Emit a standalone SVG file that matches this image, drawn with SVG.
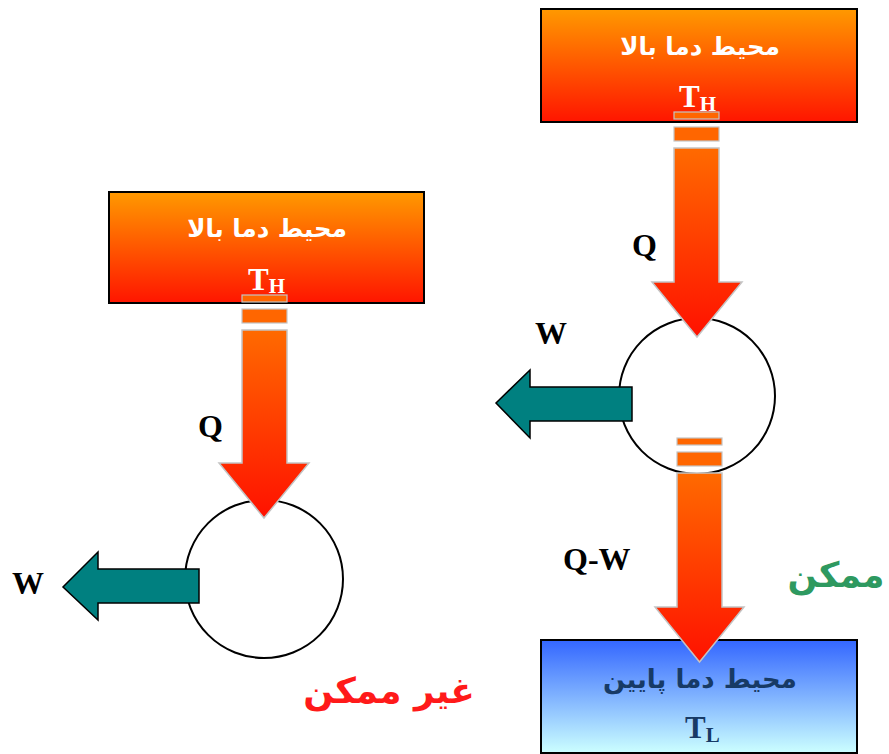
<svg xmlns="http://www.w3.org/2000/svg" width="889" height="754" viewBox="0 0 889 754">
<defs>
<linearGradient id="hot" x1="0" y1="0" x2="0" y2="1"><stop offset="0" stop-color="#ff9900"/><stop offset="1" stop-color="#ff1500"/></linearGradient>
<linearGradient id="cold" x1="0" y1="0" x2="0" y2="1"><stop offset="0" stop-color="#3366ff"/><stop offset="1" stop-color="#ccffff"/></linearGradient>
<linearGradient id="flow" x1="0" y1="0" x2="0" y2="1"><stop offset="0" stop-color="#ff6a00"/><stop offset="1" stop-color="#ff1100"/></linearGradient>
<style>
.box{stroke:#000;stroke-width:2}
.ring{fill:#fff;stroke:#000;stroke-width:2}
.flow{fill:url(#flow);stroke:#c4c4c4;stroke-width:1.5}
.stripe{fill:#ff6600;stroke:#c4c4c4;stroke-width:1.2}
.work{fill:#008080;stroke:#000;stroke-width:1.5}
.fa{font-family:"DejaVu Sans",sans-serif;font-weight:bold;text-anchor:middle}
.lat{font-family:"Liberation Serif","Times New Roman",serif;font-weight:bold}
</style>
</defs>
<rect width="889" height="754" fill="#fff"/>

<g id="hot-right">
<rect class="box" x="541" y="9" width="316" height="113" fill="url(#hot)"/>
<text class="fa" x="700" y="55" font-size="24.5" fill="#fff">محیط دما بالا</text>
<text class="lat" x="679" y="107" font-size="31" fill="#fff">T<tspan font-size="21" dy="4">H</tspan></text>
</g>

<g id="hot-left">
<rect class="box" x="109" y="192" width="315" height="111" fill="url(#hot)"/>
<text class="fa" x="267" y="237" font-size="24.5" fill="#fff">محیط دما بالا</text>
<text class="lat" x="248" y="290" font-size="31" fill="#fff">T<tspan font-size="21" dy="3">H</tspan></text>
</g>

<g id="cold-right">
<rect class="box" x="541" y="640" width="316" height="113" fill="url(#cold)"/>
</g>

<g id="engine-right"><circle class="ring" cx="697" cy="396" r="78"/></g>
<g id="engine-left"><circle class="ring" cx="264" cy="579" r="79"/></g>

<g id="connectors">
<rect class="stripe" x="674" y="112" width="45" height="7"/>
<rect class="stripe" x="674" y="127" width="45" height="14"/>
<polygon class="flow" points="674,148 719,148 719,282 742,282 697,337 652,282 674,282"/>

<rect class="stripe" x="242" y="295" width="45" height="7"/>
<rect class="stripe" x="242" y="309" width="45" height="14"/>
<polygon class="flow" points="242,330 287,330 287,463 309,463 264,518 219,463 242,463"/>

<rect class="stripe" x="677" y="438" width="45" height="7"/>
<rect class="stripe" x="677" y="452" width="45" height="14"/>
<polygon class="flow" points="677,473 722,473 722,607 744,607 699.5,662 655,607 677,607"/>

<polygon class="work" points="632,387 632,421 530,421 530,438 496,403 530,370 530,387"/>
<polygon class="work" points="199,569 199,603 98,603 98,620 63,587 98,552 98,569"/>
</g>

<g id="cold-text">
<text class="fa" x="700" y="688" font-size="26" fill="#173a66">محیط دما پایین</text>
<text class="lat" x="685" y="738" font-size="31" fill="#173a66">T<tspan font-size="21" dy="4">L</tspan></text>
</g>

<g id="labels">
<text class="lat" x="632" y="256" font-size="32" fill="#000">Q</text>
<text class="lat" x="198" y="437" font-size="32" fill="#000">Q</text>
<text class="lat" x="535" y="344" font-size="32" fill="#000">W</text>
<text class="lat" x="12" y="594" font-size="32" fill="#000">W</text>
<text class="lat" x="563" y="570" font-size="32" fill="#000">Q-W</text>
<text class="fa" x="836" y="587" font-size="35" fill="#2e9960">ممکن</text>
<text class="fa" x="389" y="703" font-size="35.5" fill="#ff1a1a">غیر ممکن</text>
</g>
</svg>
